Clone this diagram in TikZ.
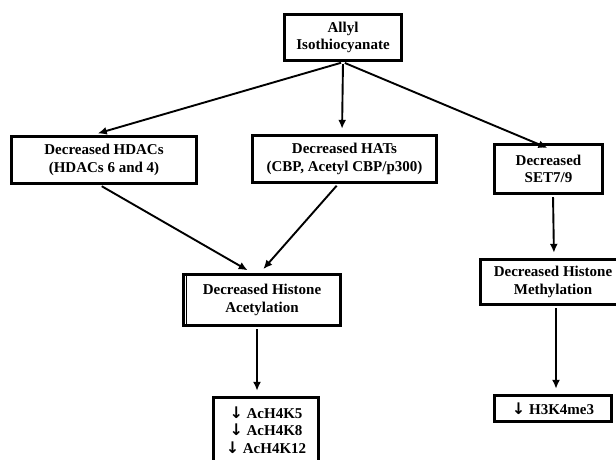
\documentclass[tikz,border=0pt]{standalone}
\usepackage{fontspec}
\setmainfont{Liberation Serif}
\newfontfamily\arrowfont{DejaVu Sans}
\newcommand{\dn}{{\arrowfont\bfseries\fontsize{16}{17.5}\selectfont ↓}}
\usetikzlibrary{arrows.meta}

\begin{document}
\begin{tikzpicture}[x=1pt,y=-1pt,>/.tip={Latex[length=9pt,width=8pt]},
	box/.style={draw,line width=3.4pt,inner sep=0pt,align=center,font=\fontsize{15}{17.5}\selectfont\bfseries},
	link/.style={->,line width=1.9pt,shorten <=2pt,shorten >=5pt}]
	\useasboundingbox (0,0) rectangle (616,459);
	\draw (343,37.5) node(ait) [box,minimum width=117,minimum height=46] {Allyl\\Isothiocyanate};
	\draw (104,160) node(hdac) [box,minimum width=185,minimum height=47] {Decreased HDACs\\(HDACs 6 and 4)};
	\draw (344.5,159) node(hat) [box,minimum width=184,minimum height=47] {Decreased HATs\\(CBP, Acetyl CBP/p300)};
	\draw (548.5,169) node(set) [box,minimum width=108,minimum height=49] {Decreased\\SET7/9};
	\draw (262,300) node(acet) [box,minimum width=157,minimum height=51] {Decreased Histone\\Acetylation};
	\draw[line width=0.8pt] ([xshift=5]acet.north west) -- ([xshift=5]acet.south west);
	\draw (553,282) node(meth) [box,minimum width=145,minimum height=45] {Decreased Histone\\Methylation};
	\draw (266,430) node(ach) [box,minimum width=105,minimum height=65] {\dn\ AcH4K5\\\dn\ AcH4K8\\\dn\ AcH4K12};
	\draw (553,408.5) node(h3k) [box,minimum width=117,minimum height=26] {\dn\ H3K4me3};
	\draw[link] (ait.south) -- ([xshift=-11]hdac.north);
	\draw[link] (ait.south) -- ([xshift=-2.5]hat.north);
	\draw[link] (ait.south) -- ([xshift=3.5,yshift=-7]set.north);
	\draw[link] ([xshift=-4]hdac.south) -- ([xshift=-10]acet.north);
	\draw[link] ([xshift=-6.5]hat.south) -- ([xshift=-2]acet.north);
	\draw[link] ([xshift=-5]acet.south) -- ([xshift=-9]ach.north);
	\draw[link] ([xshift=4.5]set.south) -- ([xshift=1]meth.north);
	\draw[link] ([xshift=3]meth.south) -- ([xshift=3]h3k.north);
\end{tikzpicture}
\end{document}
